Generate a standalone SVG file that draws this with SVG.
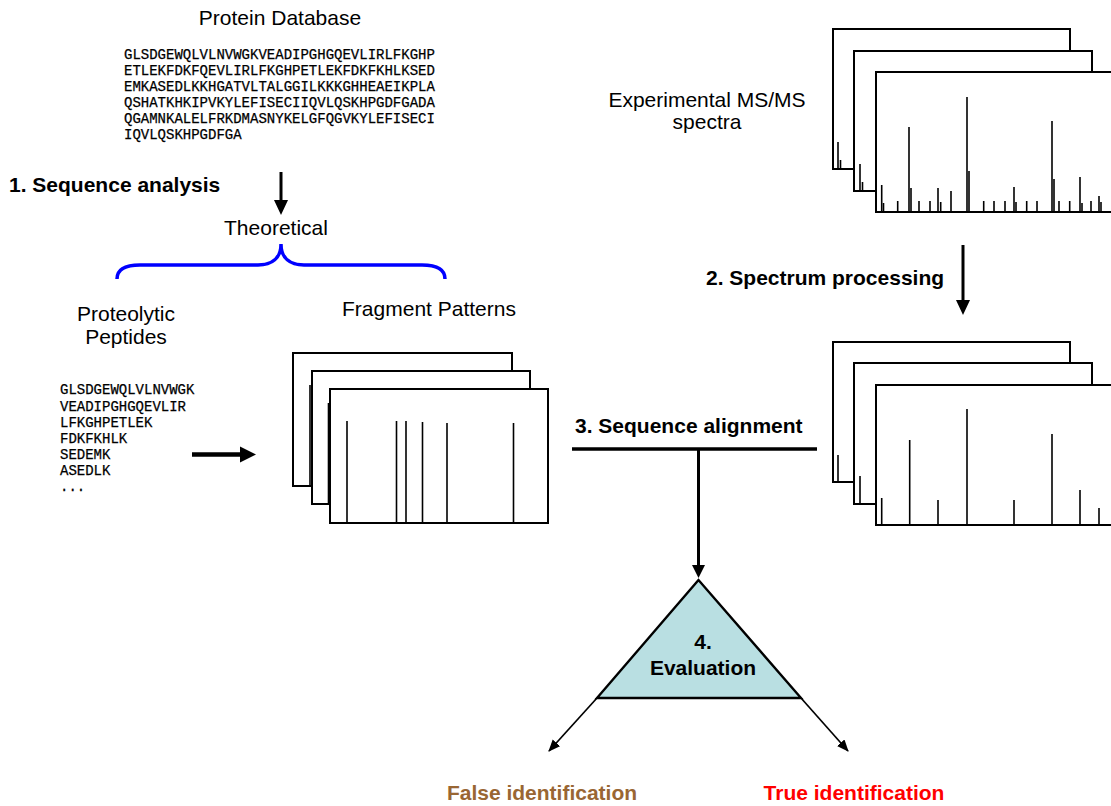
<svg xmlns="http://www.w3.org/2000/svg" width="1111" height="806" viewBox="0 0 1111 806">
  <style>
    .lbl { font-family: "Liberation Sans", Arial, sans-serif; font-size: 21px; fill: #000; }
    .step { font-family: "Liberation Sans", Arial, sans-serif; font-size: 21px; font-weight: bold; fill: #000; }
    .seq { font-family: "Liberation Mono", "Courier New", monospace; font-size: 14px; fill: #000; stroke: #000; stroke-width: 0.25; }
    .frame { fill: #fff; stroke: #000; stroke-width: 2; }
    .peak { stroke: #000; stroke-width: 1.6; fill: none; }
    .thick { stroke: #000; stroke-width: 3; fill: none; }
    .thin { stroke: #000; stroke-width: 1.7; fill: none; }
  </style>
  <defs>
    <marker id="headThin" markerUnits="userSpaceOnUse" markerWidth="14" markerHeight="12" refX="11" refY="5" orient="auto">
      <path d="M0,0 L12,5 L0,10 Z" fill="#000"/>
    </marker>
  </defs>

  <rect width="1111" height="806" fill="#fff"/>

  <!-- protein database -->
  <g id="protein-database">
    <text class="lbl" x="280" y="25" text-anchor="middle">Protein Database</text>
    <text class="seq" x="124" y="59">GLSDGEWQLVLNVWGKVEADIPGHGQEVLIRLFKGHP</text>
    <text class="seq" x="124" y="75">ETLEKFDKFQEVLIRLFKGHPETLEKFDKFKHLKSED</text>
    <text class="seq" x="124" y="91">EMKASEDLKKHGATVLTALGGILKKKGHHEAEIKPLA</text>
    <text class="seq" x="124" y="107">QSHATKHKIPVKYLEFISECIIQVLQSKHPGDFGADA</text>
    <text class="seq" x="124" y="123">QGAMNKALELFRKDMASNYKELGFQGVKYLEFISECI</text>
    <text class="seq" x="124" y="139">IQVLQSKHPGDFGA</text>
  </g>

  <g id="step-1">
    <text class="step" x="9" y="192">1. Sequence analysis</text>
  </g>

  <!-- theoretical: brace spanning peptides and fragment patterns -->
  <g id="theoretical">
    <text class="lbl" x="276" y="235" text-anchor="middle">Theoretical</text>
    <path d="M117,279 C117,269 125,265 140,265 L258,265 C272,265 281,258 281,244 C281,258 290,265 304,265 L422,265 C437,265 445,269 445,279" fill="none" stroke="#0000ff" stroke-width="3.5"/>
  </g>

  <!-- proteolytic peptides -->
  <g id="peptides">
    <text class="lbl" x="126" y="321" text-anchor="middle">Proteolytic</text>
    <text class="lbl" x="126" y="344" text-anchor="middle">Peptides</text>
    <text class="seq" x="60" y="394">GLSDGEWQLVLNVWGK</text>
    <text class="seq" x="60" y="410.5">VEADIPGHGQEVLIR</text>
    <text class="seq" x="60" y="426.5">LFKGHPETLEK</text>
    <text class="seq" x="60" y="443">FDKFKHLK</text>
    <text class="seq" x="60" y="459">SEDEMK</text>
    <text class="seq" x="60" y="475">ASEDLK</text>
    <text class="seq" x="60" y="491">...</text>
  </g>

  <!-- theoretical fragment patterns -->
  <g id="fragment-patterns">
    <text class="lbl" x="429" y="316" text-anchor="middle">Fragment Patterns</text>
    <rect class="frame" x="293" y="353" width="219" height="133"/>
    <line class="peak" x1="310" y1="385" x2="310" y2="486"/>
    <rect class="frame" x="312" y="371" width="218" height="133"/>
    <line class="peak" x1="328.5" y1="403" x2="328.5" y2="504"/>
    <rect class="frame" x="330" y="389" width="218" height="134"/>
    <g class="peak">
      <line x1="347" y1="421" x2="347" y2="523"/>
      <line x1="396.5" y1="421" x2="396.5" y2="523"/>
      <line x1="406" y1="421" x2="406" y2="523"/>
      <line x1="422.5" y1="422" x2="422.5" y2="523"/>
      <line x1="447" y1="423" x2="447" y2="523"/>
      <line x1="513.5" y1="423" x2="513.5" y2="523"/>
    </g>
  </g>

  <!-- experimental MS/MS spectra -->
  <g id="experimental-spectra">
    <text class="lbl" x="707" y="107" text-anchor="middle">Experimental MS/MS</text>
    <text class="lbl" x="707" y="129" text-anchor="middle">spectra</text>
    <rect class="frame" x="833" y="29" width="237" height="140"/>
    <line class="peak" x1="838" y1="142" x2="838" y2="169"/>
    <line class="peak" x1="840.5" y1="160" x2="840.5" y2="169"/>
    <rect class="frame" x="854" y="51" width="238" height="140"/>
    <line class="peak" x1="860" y1="164" x2="860" y2="191"/>
    <line class="peak" x1="862.5" y1="182" x2="862.5" y2="191"/>
    <rect class="frame" x="876" y="72" width="250" height="140"/>
    <g class="peak">
      <line x1="881.7" y1="185" x2="881.7" y2="212"/>
      <line x1="883.5" y1="203" x2="883.5" y2="212"/>
      <line x1="897.7" y1="201" x2="897.7" y2="212"/>
      <line x1="909" y1="127" x2="909" y2="212"/>
      <line x1="911" y1="188" x2="911" y2="212"/>
      <line x1="919" y1="201" x2="919" y2="212"/>
      <line x1="930" y1="201" x2="930" y2="212"/>
      <line x1="938" y1="188" x2="938" y2="212"/>
      <line x1="940.7" y1="202" x2="940.7" y2="212"/>
      <line x1="951" y1="191" x2="951" y2="212"/>
      <line x1="967" y1="97" x2="967" y2="212"/>
      <line x1="969" y1="171" x2="969" y2="212"/>
      <line x1="983.7" y1="201" x2="983.7" y2="212"/>
      <line x1="994" y1="201" x2="994" y2="212"/>
      <line x1="1005" y1="201" x2="1005" y2="212"/>
      <line x1="1014" y1="187" x2="1014" y2="212"/>
      <line x1="1016" y1="202" x2="1016" y2="212"/>
      <line x1="1026.7" y1="201" x2="1026.7" y2="212"/>
      <line x1="1037" y1="201" x2="1037" y2="212"/>
      <line x1="1052" y1="121" x2="1052" y2="212"/>
      <line x1="1054" y1="179" x2="1054" y2="212"/>
      <line x1="1059" y1="201" x2="1059" y2="212"/>
      <line x1="1069.7" y1="201" x2="1069.7" y2="212"/>
      <line x1="1080" y1="177" x2="1080" y2="212"/>
      <line x1="1082" y1="203" x2="1082" y2="212"/>
      <line x1="1091" y1="201" x2="1091" y2="212"/>
      <line x1="1099" y1="196" x2="1099" y2="212"/>
      <line x1="1101" y1="202" x2="1101" y2="212"/>
    </g>
  </g>

  <g id="step-2">
    <text class="step" x="706" y="285">2. Spectrum processing</text>
  </g>

  <!-- processed spectra -->
  <g id="processed-spectra">
    <rect class="frame" x="833" y="342" width="237" height="140"/>
    <line class="peak" x1="838" y1="455" x2="838" y2="482"/>
    <rect class="frame" x="854" y="363" width="238" height="141"/>
    <line class="peak" x1="860" y1="476" x2="860" y2="504"/>
    <rect class="frame" x="876" y="385" width="250" height="140"/>
    <g class="peak">
      <line x1="881.7" y1="498" x2="881.7" y2="525"/>
      <line x1="909.7" y1="440" x2="909.7" y2="525"/>
      <line x1="938" y1="500" x2="938" y2="525"/>
      <line x1="967" y1="409" x2="967" y2="525"/>
      <line x1="1014" y1="500" x2="1014" y2="525"/>
      <line x1="1052" y1="434" x2="1052" y2="525"/>
      <line x1="1080" y1="490" x2="1080" y2="525"/>
      <line x1="1099" y1="508" x2="1099" y2="525"/>
    </g>
  </g>

  <g id="step-3">
    <text class="step" x="575" y="433">3. Sequence alignment</text>
  </g>

  <!-- evaluation -->
  <g id="evaluation">
    <polygon points="698.5,580 597,698 801,698" fill="#b9dfe2" stroke="#000" stroke-width="2.4" stroke-linejoin="miter"/>
    <text class="step" x="703" y="649" text-anchor="middle">4.</text>
    <text class="step" x="703" y="675" text-anchor="middle">Evaluation</text>
  </g>

  <g id="false-identification">
    <text class="step" x="542" y="800" text-anchor="middle" style="fill:#996633">False identification</text>
  </g>
  <g id="true-identification">
    <text class="step" x="854" y="800" text-anchor="middle" style="fill:#ff0000">True identification</text>
  </g>

  <!-- connectors -->
  <g id="connectors">
    <line class="thick" x1="281" y1="172" x2="281" y2="201"/>
    <polygon points="274,200 288,200 281,215" fill="#000"/>

    <line x1="192" y1="454.5" x2="242" y2="454.5" stroke="#000" stroke-width="4.5"/>
    <polygon points="240,446.5 240,462.5 256,454.5" fill="#000"/>

    <line class="thick" x1="963" y1="245" x2="963" y2="302"/>
    <polygon points="956,300 970,300 963,315" fill="#000"/>

    <line x1="572" y1="449" x2="817" y2="449" stroke="#000" stroke-width="3.5"/>
    <line class="thick" x1="698.5" y1="449" x2="698.5" y2="566"/>
    <polygon points="692,565 705,565 698.5,578" fill="#000"/>

    <line class="thin" x1="597" y1="698" x2="549" y2="751" marker-end="url(#headThin)"/>
    <line class="thin" x1="801" y1="698" x2="848" y2="751" marker-end="url(#headThin)"/>
  </g>
</svg>
